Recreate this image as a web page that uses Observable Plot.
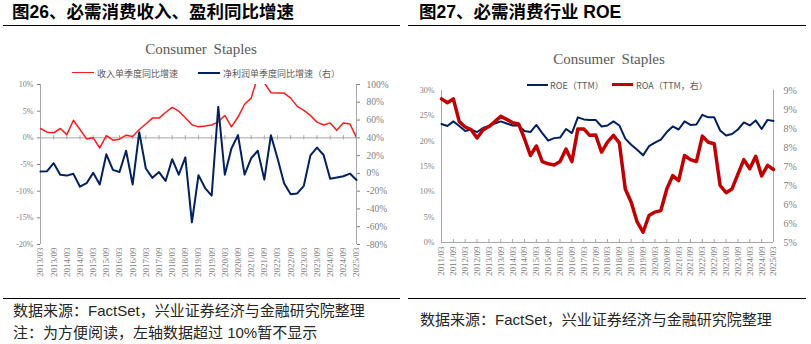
<!DOCTYPE html>
<html><head><meta charset="utf-8">
<script src="https://cdn.jsdelivr.net/npm/d3@7"></script>
<script src="https://cdn.jsdelivr.net/npm/@observablehq/plot@0.6"></script>
<style>
body{margin:0;background:#fff;}
#root{position:relative;width:811px;height:344px;overflow:hidden;font-family:"Liberation Sans","Noto Sans CJK SC",sans-serif;background:#fff;}
.abs{position:absolute;white-space:nowrap;z-index:2;}
.hdr{font-size:17.5px;font-weight:bold;color:#000;line-height:1;}
.rule{position:absolute;height:0;border-top:1.5px solid #000;z-index:2;}
.ttl{font-family:"Liberation Serif",serif;font-size:15px;color:#595959;word-spacing:3px;line-height:1;}
.leg{font-family:"Noto Sans CJK SC",sans-serif;font-size:9px;color:#595959;line-height:1;}
.sw{position:absolute;height:0;z-index:2;}
.foot{font-size:15px;color:#262626;line-height:1;}
svg.plotsvg{position:absolute;z-index:1;}
</style></head><body><div id="root"></div>
<script>
// ---------- Chart 1 data (quarterly, 2013/03 .. 2025/03) ----------
const revenueYoY = [1.75, 1.06, 0.94, 1.75, 0.6, 3.3, 1.56, -0.2, 0, -1.9,
  0.4, -0.45, -0.25, 0.5, 0.25, 1.56, 2.6, 3.7, 3.7, 4.75,
  5.7, 5.0, 3.75, 2.45, 2.06, 2.2, 2.4, 3.0, 4.2, 2.05,
  3.9, 6.3, 7.45, 11.5, 10.3, 8.45, 8.4, 8.4, 7.45, 5.9,
  5.15, 4.2, 2.95, 2.4, 2.8, 1.4, 2.8, 2.6, 0.05];
const profitYoY = [2, 2.5, 11.5, -1.5, -2.5, -0.5, -15, -11, 0.6, -12.5,
  21.5, 4, 1.5, 25.5, -12.5, 46.4, 5.5, -5, 1.5, -8.5,
  16, -1.5, 18, -55, -2, -16.5, -25, 75, -1.5, 28,
  43, -1.3, 17, 25.5, -7, 43, 17, -11, -23.5, -22.5,
  -14, 20.3, 29, 20.7, -6, -4.7, -3.2, -0.2, -7.5];
const labels1 = ["2013/03","2013/09","2014/03","2014/09","2015/03","2015/09","2016/03","2016/09",
  "2017/03","2017/09","2018/03","2018/09","2019/03","2019/09","2020/03","2020/09","2021/03",
  "2021/09","2022/03","2022/09","2023/03","2023/09","2024/03","2024/09","2025/03"];
const leftTicks1 = [10, 5, 0, -5, -10, -15, -20];
const rightTicks1 = [100, 80, 60, 40, 20, 0, -20, -40, -60, -80];

// ---------- Chart 2 data (quarterly, 2011/03 .. 2025/03) ----------
const roe = [23.4, 23.0, 23.9, 23.0, 22.0, 22.3, 21.8, 22.6, 23.0, 23.5,
  23.9, 23.5, 23.1, 23.1, 22.0, 21.8, 23.2, 21.6, 20.1, 20.6,
  20.7, 22.4, 21.6, 24.7, 24.3, 24.2, 24.2, 22.9, 23.1, 23.9,
  23.1, 20.5, 19.3, 18.3, 17.2, 19.0, 19.7, 20.3, 21.8, 22.9,
  22.3, 23.9, 23.2, 23.3, 25.2, 24.7, 24.7, 22.1, 21.1, 21.4,
  22.3, 23.7, 23.1, 24.1, 22.4, 24.2, 24.0];
const roa = [8.78, 8.68, 8.78, 8.18, 8.04, 7.97, 7.75, 7.96, 8.05, 8.18,
  8.32, 8.24, 8.15, 8.12, 7.73, 7.29, 7.54, 7.13, 7.07, 7.04,
  7.13, 7.46, 7.13, 7.99, 7.99, 7.82, 7.83, 7.38, 7.64, 7.82,
  7.62, 6.41, 6.06, 5.54, 5.27, 5.71, 5.8, 5.84, 6.41, 6.76,
  6.63, 7.29, 7.18, 7.13, 7.8, 7.64, 7.6, 6.5, 6.31, 6.41,
  6.8, 7.18, 6.94, 7.27, 6.75, 7.03, 6.92];
const labels2 = ["2011/03","2011/09","2012/03","2012/09","2013/03","2013/09","2014/03","2014/09",
  "2015/03","2015/09","2016/03","2016/09","2017/03","2017/09","2018/03","2018/09","2019/03",
  "2019/09","2020/03","2020/09","2021/03","2021/09","2022/03","2022/09","2023/03","2023/09",
  "2024/03","2024/09","2025/03"];
const leftTicks2 = [30, 25, 20, 15, 10, 5, 0];
const rightTicks2 = [9, 8.5, 8, 7.5, 7, 6.5, 6, 5.5, 5];
const rightTickLabels2 = ["9%","9%","8%","8%","7%","7%","6%","6%","5%"];

const root = document.getElementById("root");
function add(cls, html, left, top, extra) {
  const d = document.createElement("div");
  d.className = "abs " + cls; d.innerHTML = html;
  d.style.left = left + "px"; d.style.top = top + "px";
  if (extra) Object.assign(d.style, extra);
  root.appendChild(d); return d;
}
function rule(left, top, width) {
  const d = document.createElement("div");
  d.className = "rule"; d.style.left = left + "px"; d.style.top = top + "px"; d.style.width = width + "px";
  root.appendChild(d);
}
function swatch(left, top, width, color, thick) {
  const d = document.createElement("div");
  d.className = "sw"; d.style.left = left + "px"; d.style.top = (top - thick / 2) + "px";
  d.style.width = width + "px"; d.style.borderTop = thick + "px solid " + color;
  root.appendChild(d);
}

const gray = "#a6a6a6", tgray = "#808080";
const NAVY = "#002060";

// ---------- Chart 1 ----------
const tickIdx1 = labels1.map((_, k) => 2 * k);
const toLeft1 = r => (r - 40) / 6;
const chart1 = Plot.plot({
  width: 405, height: 212,
  marginLeft: 40, marginRight: 49, marginTop: 6, marginBottom: 46,
  x: {domain: [0, revenueYoY.length - 1], axis: null},
  y: {domain: [-20, 10], axis: null},
  style: {fontFamily: "Liberation Serif, serif", background: "transparent", overflow: "visible"},
  marks: [
    Plot.ruleX([0, revenueYoY.length - 1], {y1: -20, y2: 10, stroke: gray}),
    Plot.ruleY([0], {x1: 0, x2: revenueYoY.length - 1, stroke: gray}),
    Plot.ruleX(tickIdx1, {x: d => d, y1: -0.4, y2: 0.4, stroke: gray}),
    Plot.axisY(leftTicks1, {anchor: "left", tickSize: 3, tickPadding: 4, label: null,
      tickFormat: d => d + "%", fontSize: 8, color: tgray}),
    Plot.axisY(rightTicks1.map(toLeft1), {anchor: "right", tickSize: 3, tickPadding: 7, label: null,
      tickFormat: v => Math.round(v * 6 + 40) + "%", fontSize: 9.5, color: tgray}),
    Plot.axisX(tickIdx1, {anchor: "bottom", tickSize: 0, tickPadding: 3, tickRotate: -90, label: null,
      tickFormat: i => labels1[i / 2], fontSize: 9, color: tgray}),
    Plot.line(revenueYoY, {x: (d, i) => i, y: d => d, stroke: "#ff1a1a", strokeWidth: 1.5, clip: true}),
    Plot.line(profitYoY, {x: (d, i) => i, y: d => toLeft1(d), stroke: NAVY, strokeWidth: 2})
  ]
});
chart1.classList.add("plotsvg");
chart1.style.left = "0px"; chart1.style.top = "78px";
root.appendChild(chart1);

// ---------- Chart 2 ----------
const tickIdx2 = labels2.map((_, k) => 2 * k);
const toLeft2 = r => (r - 5) * 7.5;
const rt2 = rightTicks2.map(toLeft2);
const chart2 = Plot.plot({
  width: 406, height: 212,
  marginLeft: 36, marginRight: 38, marginTop: 12, marginBottom: 48,
  x: {domain: [0, roe.length - 1], axis: null},
  y: {domain: [0, 30], axis: null},
  style: {fontFamily: "Liberation Serif, serif", background: "transparent", overflow: "visible"},
  marks: [
    Plot.ruleX([0, roe.length - 1], {y1: 0, y2: 30, stroke: gray}),
    Plot.ruleY([0], {x1: 0, x2: roe.length - 1, stroke: gray}),
    Plot.ruleX(tickIdx2, {x: d => d, y1: 0, y2: 0.6, stroke: gray}),
    Plot.axisY(leftTicks2, {anchor: "left", tickSize: 0, tickPadding: 7, label: null,
      tickFormat: d => d + "%", fontSize: 8, color: tgray}),
    Plot.axisY(rt2, {anchor: "right", tickSize: 0, tickPadding: 10, label: null,
      tickFormat: v => {
        let best = 0;
        rt2.forEach((t, i) => { if (Math.abs(t - v) < Math.abs(rt2[best] - v)) best = i; });
        return rightTickLabels2[best];
      }, fontSize: 10, color: tgray}),
    Plot.axisX(tickIdx2, {anchor: "bottom", tickSize: 0, tickPadding: 4, tickRotate: -90, label: null,
      tickFormat: i => labels2[i / 2], fontSize: 9, color: tgray}),
    Plot.line(roe, {x: (d, i) => i, y: d => d, stroke: NAVY, strokeWidth: 2}),
    Plot.line(roa, {x: (d, i) => i, y: d => toLeft2(d), stroke: "#c00000", strokeWidth: 3.5})
  ]
});
chart2.classList.add("plotsvg");
chart2.style.left = "405px"; chart2.style.top = "78px";
root.appendChild(chart2);

// ---------- Headers ----------
add("hdr", "图26、必需消费收入、盈利同比增速", 12, 4);
add("hdr", "图27、必需消费行业 ROE", 419, 4);
rule(3, 25, 397);
rule(408, 25, 398);

// ---------- Titles ----------
add("ttl", "Consumer Staples", 201, 41.5, {transform: "translateX(-50%)"});
add("ttl", "Consumer Staples", 609, 52, {transform: "translateX(-50%)"});

// ---------- Legends ----------
swatch(72, 73, 22, "#ff1a1a", 1.5);
add("leg", "收入单季度同比增速", 97, 68.5);
swatch(198, 73, 22, NAVY, 2);
add("leg", "净利润单季度同比增速（右）", 223, 68.5);
swatch(527, 85, 21, NAVY, 2);
add("leg", "ROE（TTM）", 550, 80.5);
swatch(612, 85, 21, "#c00000", 3.5);
add("leg", "ROA（TTM，右）", 636, 80.5);

// ---------- Footers ----------
rule(3, 297.5, 397);
rule(408, 297.5, 398);
add("foot", "数据来源：FactSet，兴业证券经济与金融研究院整理", 13, 303);
add("foot", "注：为方便阅读，左轴数据超过 10%暂不显示", 13, 324.5);
add("foot", "数据来源：FactSet，兴业证券经济与金融研究院整理", 420, 311.5);
</script></body></html>
